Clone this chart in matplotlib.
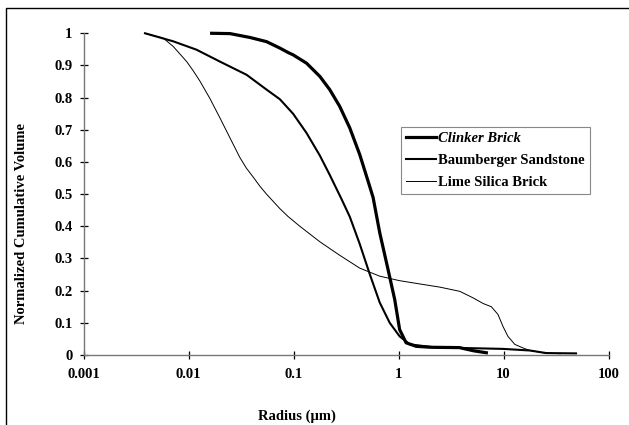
import matplotlib
matplotlib.use('Agg')
import matplotlib.pyplot as plt
from matplotlib.lines import Line2D
from matplotlib.ticker import FixedLocator, FuncFormatter, NullLocator

plt.rcParams['font.family'] = 'Liberation Serif'
plt.rcParams['font.weight'] = 'bold'

# radius (um) and normalized cumulative volume
clinker_r = [0.0166, 0.0248, 0.0384, 0.0553, 0.0741, 0.089, 0.099, 0.133, 0.178, 0.221,
             0.275, 0.343, 0.427, 0.513, 0.572, 0.662, 0.794, 0.92, 1.024, 1.18, 1.47,
             2.04, 3.8, 5.2, 6.86]
clinker_v = [1.0, 0.999, 0.987, 0.974, 0.954, 0.94, 0.933, 0.907, 0.866, 0.825,
             0.773, 0.706, 0.623, 0.54, 0.49, 0.38, 0.266, 0.172, 0.079, 0.038, 0.027,
             0.024, 0.023, 0.013, 0.007]

baum_r = [0.00385, 0.00715, 0.0119, 0.0199, 0.0357, 0.0553, 0.0741, 0.099, 0.133,
          0.178, 0.221, 0.286, 0.343, 0.427, 0.531, 0.662, 0.824, 1.024, 1.28,
          2.04, 3.8, 9.9, 17.8, 25.5, 49.0]
baum_v = [1.0, 0.975, 0.949, 0.912, 0.871, 0.825, 0.795, 0.75, 0.69,
          0.62, 0.56, 0.485, 0.43, 0.345, 0.252, 0.163, 0.1, 0.058, 0.033,
          0.025, 0.022, 0.019, 0.014, 0.006, 0.005]

lime_r = [0.00385, 0.00574, 0.00715, 0.0096, 0.011, 0.0128, 0.016, 0.0199, 0.0248, 0.0308,
          0.0357, 0.0413, 0.0477, 0.0553, 0.0741, 0.089, 0.115, 0.178, 0.275, 0.427, 0.662,
          1.024, 1.586, 2.47, 3.82, 5.1, 6.4, 7.65, 8.85, 9.87, 11.0, 12.8, 15.3, 17.8,
          25.0, 35.0]
lime_v = [1.0, 0.985, 0.959, 0.912, 0.885, 0.852, 0.797, 0.737, 0.675, 0.614,
          0.58, 0.553, 0.525, 0.5, 0.455, 0.43, 0.4, 0.352, 0.31, 0.27, 0.245,
          0.231, 0.221, 0.211, 0.198, 0.178, 0.16, 0.15, 0.126, 0.089, 0.058, 0.033, 0.022, 0.014,
          0.006, 0.004]

xticks = [0.001, 0.01, 0.1, 1, 10, 100]
yticks = [0, 0.1, 0.2, 0.3, 0.4, 0.5, 0.6, 0.7, 0.8, 0.9, 1]

fig = plt.figure(figsize=(6.29, 4.25), dpi=100)
ax = fig.add_axes([0.1328, 0.1647, 0.8347, 0.757])

ax.plot(clinker_r, clinker_v, color='black', lw=2.3, label='Clinker Brick', clip_on=False,
        solid_joinstyle='round')
ax.plot(baum_r, baum_v, color='black', lw=1.5, label='Baumberger Sandstone', clip_on=False,
        solid_joinstyle='round')
ax.plot(lime_r, lime_v, color='black', lw=0.7, label='Lime Silica Brick', clip_on=False,
        solid_joinstyle='round')

ax.set_xscale('log')
ax.set_xlim(0.001, 100)
ax.set_ylim(0, 1)
ax.xaxis.set_major_locator(FixedLocator(xticks))
ax.xaxis.set_minor_locator(NullLocator())
ax.yaxis.set_major_locator(FixedLocator(yticks))
fmt = FuncFormatter(lambda v, p: '{:g}'.format(v))
ax.xaxis.set_major_formatter(fmt)
ax.yaxis.set_major_formatter(fmt)

for s in ['top', 'right']:
    ax.spines[s].set_visible(False)
for s in ['left', 'bottom']:
    ax.spines[s].set_color('#777777')
    ax.spines[s].set_linewidth(1.0)
ax.tick_params(axis='both', direction='inout', length=6, width=0.9, color='black',
               labelsize=10.5)
ax.tick_params(axis='x', pad=6)
ax.tick_params(axis='y', pad=5)
for lab in ax.get_xticklabels() + ax.get_yticklabels():
    lab.set_fontweight('bold')

ax.set_xlabel('Radius (\u00b5m)', fontsize=10.5, fontweight='bold', labelpad=17)
ax.xaxis.set_label_coords(0.407, -0.17)
ax.set_ylabel('Normalized Cumulative Volume', fontsize=10.5, fontweight='bold')
ax.yaxis.set_label_coords(-0.105, 0.41)

leg = ax.legend(loc='upper left', bbox_to_anchor=(400.7 / 629, 1 - 126.7 / 425),
                bbox_transform=fig.transFigure, borderaxespad=0, fancybox=False,
                framealpha=1, edgecolor='#888888', handlelength=2.1, handletextpad=0.1,
                labelspacing=0.6, borderpad=0.35, prop={'size': 10.5, 'weight': 'bold'})
leg.get_frame().set_linewidth(0.8)
leg.get_texts()[0].set_fontstyle('italic')

# outer chart frame (only top and left show in the scan)
fig.add_artist(Line2D([6 / 629, 6 / 629, 1.0], [0.0, 1 - 8 / 425, 1 - 8 / 425],
                      transform=fig.transFigure, color='black', lw=1.0))

fig.savefig('out.png', dpi=100)
